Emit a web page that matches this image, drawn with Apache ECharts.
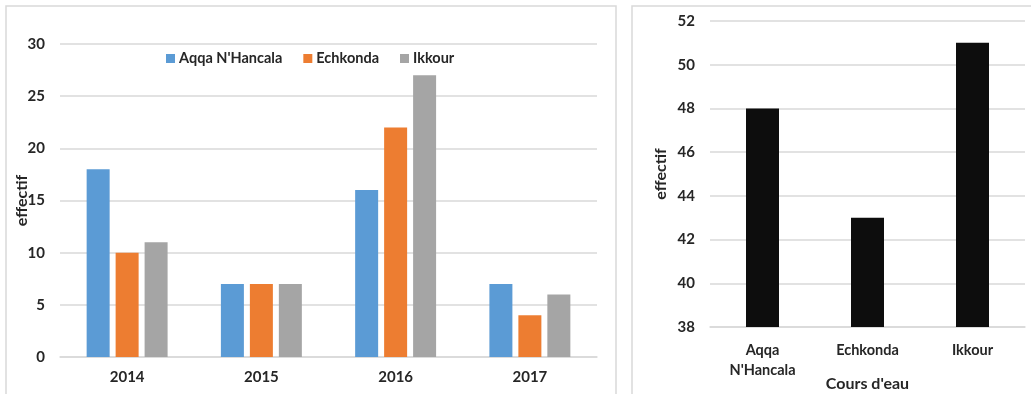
<!DOCTYPE html>
<html><head><meta charset="utf-8">
<script src="https://cdn.jsdelivr.net/npm/echarts@6/dist/echarts.min.js"></script>
<style>html,body{margin:0;padding:0;background:#fff}#c{width:1031px;height:394px}</style>
</head><body><div id="c"></div>
<script>
const years = ['2014','2015','2016','2017'];
const seriesNames = ["Aqqa N'Hancala", 'Echkonda', 'Ikkour'];
const aqqa = [18, 7, 16, 7];
const echkonda = [10, 7, 22, 4];
const ikkour = [11, 7, 27, 6];
const rivers = ["Aqqa\nN'Hancala", 'Echkonda', 'Ikkour'];
const totals = [48, 43, 51];
const leftTicks = {min: 0, max: 30, interval: 5};
const rightTicks = {min: 38, max: 52, interval: 2};

const colors = ['#5b9bd5', '#ed7d31', '#a5a5a5'];
const txt = '#262626';
const font = 'Lato';
const grid = '#d9d9d9';
const chart = echarts.init(document.getElementById('c'));
const vals = [aqqa, echkonda, ikkour];
chart.setOption({
  animation: false,
  textStyle: {fontFamily: font},
  graphic: [
    {type: 'rect', shape: {x: 6, y: 6, width: 610, height: 400}, style: {fill: 'none', stroke: grid, lineWidth: 1.5}},
    {type: 'rect', shape: {x: 632, y: 6, width: 410, height: 400}, style: {fill: 'none', stroke: grid, lineWidth: 1.5}}
  ],
  legend: {
    data: seriesNames, left: 161, top: 46, icon: 'rect', itemWidth: 9, itemHeight: 9, itemGap: 21,
    textStyle: {fontFamily: font, fontWeight: 'bold', fontSize: 14.5, color: txt, padding: [0, 0, 0, -1]}
  },
  grid: [
    {left: 60, right: 434, top: 44, bottom: 37, containLabel: false, outerBoundsMode: 'none'},
    {left: 710, right: 6, top: 21, bottom: 67, containLabel: false, outerBoundsMode: 'none'}
  ],
  xAxis: [
    {type: 'category', gridIndex: 0, data: years, axisTick: {show: false},
     axisLine: {lineStyle: {color: grid, width: 1.5}},
     axisLabel: {margin: 13, color: txt, fontWeight: 'bold', fontSize: 15, fontFamily: font}},
    {type: 'category', gridIndex: 1, data: rivers, axisTick: {show: false},
     axisLine: {lineStyle: {color: grid, width: 1.5}},
     axisLabel: {margin: 13, color: txt, fontWeight: 'bold', fontSize: 14.5, lineHeight: 20, fontFamily: font},
     name: "Cours d'eau", nameLocation: 'middle', nameGap: 49, nameMoveOverlap: false,
     nameTextStyle: {color: txt, fontWeight: 'bold', fontSize: 16, fontFamily: font}}
  ],
  yAxis: [
    {type: 'value', gridIndex: 0, min: leftTicks.min, max: leftTicks.max, interval: leftTicks.interval,
     axisLine: {show: false}, axisTick: {show: false},
     splitLine: {lineStyle: {color: grid, width: 1.5}},
     axisLabel: {margin: 15, color: txt, fontWeight: 'bold', fontSize: 15, fontFamily: font},
     name: 'effectif', nameLocation: 'middle', nameGap: 30, nameMoveOverlap: false,
     nameTextStyle: {color: txt, fontWeight: 'bold', fontSize: 16, fontFamily: font}},
    {type: 'value', gridIndex: 1, min: rightTicks.min, max: rightTicks.max, interval: rightTicks.interval,
     axisLine: {show: false}, axisTick: {show: false},
     splitLine: {lineStyle: {color: grid, width: 1.5}},
     axisLabel: {margin: 15, color: txt, fontWeight: 'bold', fontSize: 15, fontFamily: font},
     name: 'effectif', nameLocation: 'middle', nameGap: 41, nameMoveOverlap: false,
     nameTextStyle: {color: txt, fontWeight: 'bold', fontSize: 16, fontFamily: font}}
  ],
  series: seriesNames.map((n, i) => ({
    type: 'bar', name: n, xAxisIndex: 0, yAxisIndex: 0, data: vals[i],
    barWidth: 23, barGap: '26%', itemStyle: {color: colors[i]}
  })).concat([{
    type: 'bar', name: 'total', xAxisIndex: 1, yAxisIndex: 1, data: totals,
    barWidth: 33, itemStyle: {color: '#0d0d0d'}
  }])
});
</script></body></html>
